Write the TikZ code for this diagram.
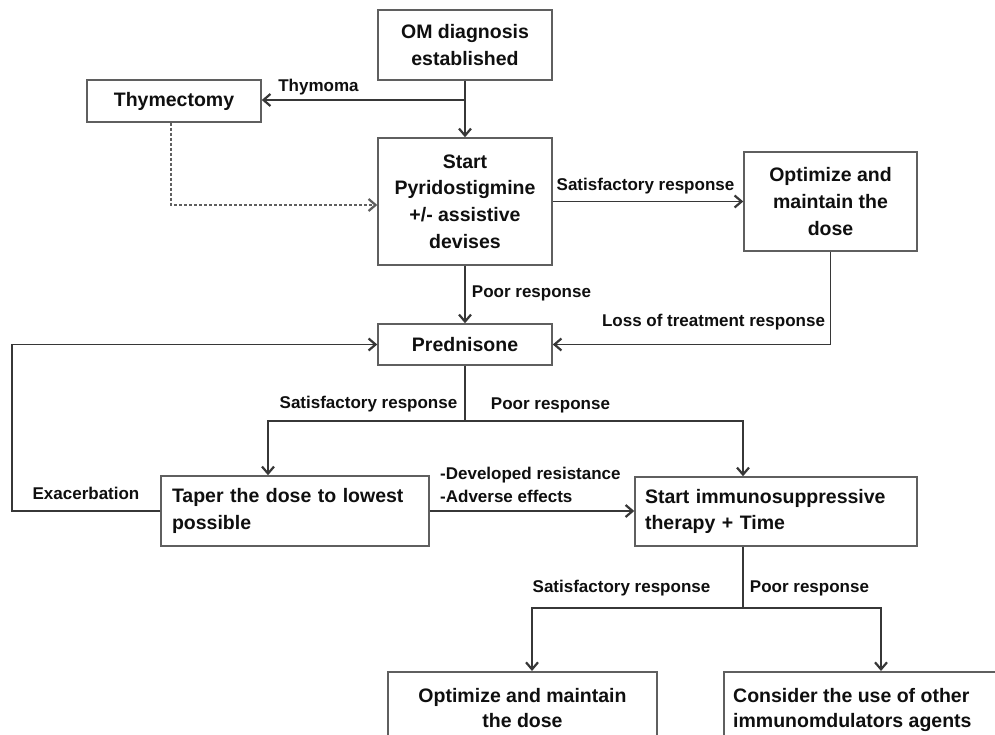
\documentclass[tikz,border=0pt]{standalone}
\usepackage{fontspec}
\setmainfont{Liberation Sans}
\usetikzlibrary{arrows.meta}
\definecolor{boxgray}{RGB}{95,95,95}
\definecolor{linegray}{RGB}{55,55,55}
\definecolor{txt}{RGB}{15,15,15}
\begin{document}
\begin{tikzpicture}[x=1pt,y=-1pt,
  box/.style={draw=boxgray, line width=1.5pt, fill=white, inner sep=0pt,
    font=\bfseries\fontsize{19.5}{26.7}\selectfont, align=center, text=txt},
  boxtext/.style={inner sep=0pt, font=\bfseries\fontsize{19.5}{25.5}\selectfont, text=txt},
  lbl/.style={font=\bfseries\fontsize{17}{23}\selectfont, inner sep=0pt, anchor=base, text=txt},
  conn/.style={draw=linegray, line width=1.6pt, -{Straight Barb[length=7pt,width=12pt,line width=2.2pt]}},
  plain/.style={draw=linegray, line width=1.6pt},
  dashconn/.style={conn, draw=boxgray, line width=1.4pt, dash pattern=on 3pt off 2pt}]
\clip (0,0) rectangle (995,735);
\fill[white] (0,0) rectangle (995,735);

% boxes
\node[box, minimum width=174, minimum height=70] (om) at (465,45) {OM diagnosis\\established};
\node[box, minimum width=174, minimum height=42] (thy) at (174,101) {Thymectomy};
\node[box, minimum width=174, minimum height=127] (pyr) at (465,201.5) {Start\\Pyridostigmine\\+/- assistive\\devises};
\node[box, minimum width=173, minimum height=99] (opt1) at (830.5,201.5) {Optimize and\\maintain the\\dose};
\node[box, minimum width=174, minimum height=41] (pred) at (465,344.5) {Prednisone};
\node[box, minimum width=268, minimum height=70, align=left, text width=246] (tap) at (295,511) {Taper the dose to lowest\\possible};
\node[box, minimum width=282, minimum height=69, align=left, text width=262] (imm) at (776,511.5) {Start immunosuppressive\\therapy + Time};
\node[box, minimum width=269, minimum height=100, anchor=north] (opt2) at (522.5,671) {};
\node[boxtext, align=center, anchor=north] (opt2t) at ([yshift=-17pt]opt2.north) {Optimize and maintain\\the dose};
\node[box, minimum width=320, minimum height=100, anchor=north west] (oth) at (723,671) {};
\node[boxtext, align=left, anchor=north west] (otht) at ([xshift=10pt,yshift=-17pt]oth.north west) {Consider the use of other\\immunomdulators agents};

% connectors
\coordinate (tj) at (465,100);
\draw[conn] (om) -- (pyr);
\draw[conn] (tj) -- (tj -| thy.east);
\draw[dashconn] ([xshift=-3pt]thy.south) |- ([yshift=-3.5pt]pyr.west);
\draw[conn] (pyr.east) -- (opt1.west);
\draw[conn] (pyr) -- (pred);
\draw[conn] (opt1.south) |- (pred.east);
\coordinate (pb) at (465,421);
\draw[plain] (pred.south) -- (pb);
\draw[conn] (pb) -| ([xshift=-27pt]tap.north);
\draw[conn] (pb) -| ([xshift=-33pt]imm.north);
\draw[conn] (tap.west) -- ++(-148,0) |- (pred.west);
\draw[conn] (tap.east) -- (tap.east -| imm.west);
\coordinate (ib) at (743,608);
\draw[plain] ([xshift=-33pt]imm.south) -- (ib);
\draw[conn] (ib) -| ([xshift=9.5pt]opt2.north);
\draw[conn] (ib) -| ([xshift=158pt]oth.north west);

% labels
\node[lbl] (l1) at (318.5,91.5) {Thymoma};
\node[lbl] (l2) at (645.5,190.5) {Satisfactory response};
\node[lbl] (l3) at (531.5,297.5) {Poor response};
\node[lbl] (l4) at (713.5,326.5) {Loss of treatment response};
\node[lbl] (l5) at (368.5,408.5) {Satisfactory response};
\node[lbl] (l6) at (550.5,409.5) {Poor response};
\node[lbl] (l7) at (86,499.5) {Exacerbation};
\node[lbl, anchor=north west, align=left] (l8) at (440,467) {-Developed resistance\\-Adverse effects};
\node[lbl] (l9) at (621.5,592.5) {Satisfactory response};
\node[lbl] (l10) at (809.5,592.5) {Poor response};
\end{tikzpicture}
\end{document}
